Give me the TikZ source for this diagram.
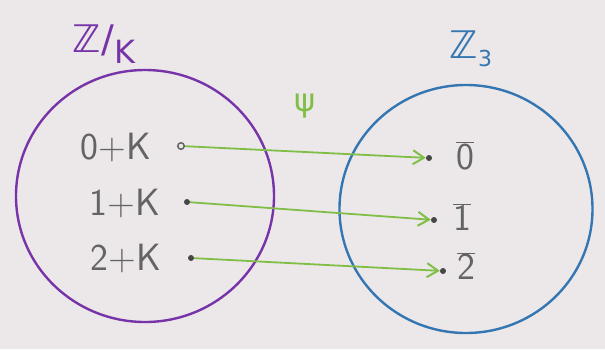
\documentclass[tikz,border=0pt]{standalone}
\usepackage{fontspec}
\newfontfamily\dv{DejaVu Sans}
\usetikzlibrary{arrows.meta,shapes.geometric}
\definecolor{paper}{RGB}{236,232,234}
\definecolor{purp}{RGB}{118,52,168}
\definecolor{blu}{RGB}{52,118,178}
\definecolor{grn}{RGB}{128,190,70}
\definecolor{ink}{RGB}{100,100,100}
\tikzset{
  elem/.style={text=ink,font=\sffamily\fontsize{38}{42}\selectfont,inner sep=0pt},
  pt/.style={circle,fill=ink!70!black,inner sep=0pt,minimum size=6pt},
  maparrow/.style={grn,line width=1.8pt,-{Straight Barb[length=11pt,width=14pt,line width=2pt]}},
  setring/.style={line width=2.4pt,ellipse,inner sep=0pt}
}
\begin{document}
\begin{tikzpicture}[x=1pt,y=-1pt]
\fill[paper] (0,0) rectangle (605,349);
\useasboundingbox (0,0) rectangle (605,349);
% sets
\node[setring,draw=purp,minimum width=258pt,minimum height=252pt] (A) at (145,196) {};
\node[setring,draw=blu,minimum width=253pt,minimum height=248pt] (B) at (466,209) {};
% set labels
\node[text=purp,font=\dv\fontsize{38}{42}\selectfont,inner sep=0pt] (LA) at (104,44) {ℤ/\raisebox{-11pt}{\fontsize{32}{34}\selectfont K}};
\node[text=blu,font=\dv\fontsize{38}{42}\selectfont,inner sep=0pt] (LB) at (471,49) {ℤ\raisebox{-8pt}{\fontsize{22}{24}\selectfont 3}};
\node[text=grn,font=\dv\fontsize{32}{36}\selectfont,inner sep=0pt] (psi) at (305,106) {ψ};
% elements left
\node[elem] (a0) at (116,148) {0+K};
\node[elem] (a1) at (125,204) {1+K};
\node[elem] (a2) at (126,259) {2+K};
\node[circle,draw=ink,line width=1.5pt,inner sep=0pt,minimum size=6.5pt] (d0) at (181,146) {};
\node[pt] (d1) at (187,202) {};
\node[pt] (d2) at (191,258) {};
% elements right
\node[pt] (e0) at (429,158) {};
\node[pt] (e1) at (434,220) {};
\node[pt] (e2) at (443,271) {};
\node[elem] (b0) at (465,156) {$\overline{\hbox{0}}$};
\node[elem] (b1) at (462,217) {$\overline{\hbox{1}}$};
\node[elem] (b2) at (466,266) {$\overline{\hbox{2}}$};
% maps
\draw[maparrow] (d0) -- (e0);
\draw[maparrow] (d1) -- (e1);
\draw[maparrow] (d2) -- (e2);
\end{tikzpicture}
\end{document}
